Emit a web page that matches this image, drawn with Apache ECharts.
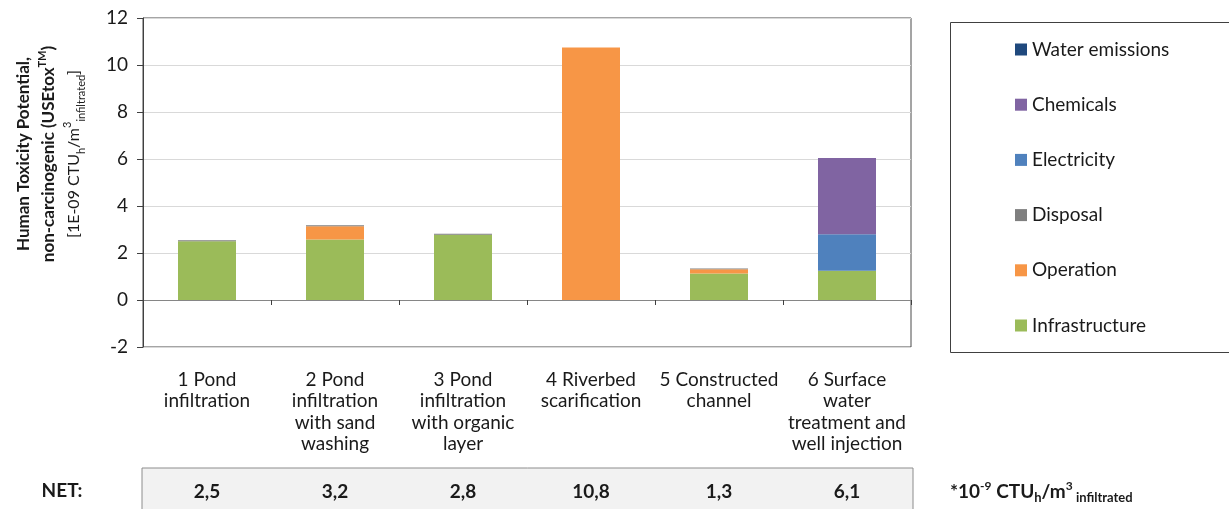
<!DOCTYPE html>
<html><head><meta charset="utf-8">
<script src="https://cdn.jsdelivr.net/npm/echarts@6/dist/echarts.min.js"></script>
<style>html,body{margin:0;padding:0;background:#fff}#c{width:1229px;height:509px}</style>
</head><body><div id="c"></div>
<script>
const categories = ['1 Pond\ninfiltration', '2 Pond\ninfiltration\nwith sand\nwashing', '3 Pond\ninfiltration\nwith organic\nlayer', '4 Riverbed\nscarification', '5 Constructed\nchannel', '6 Surface\nwater\ntreatment and\nwell injection'];
const infrastructure = [2.50, 2.57, 2.78, 0, 1.13, 1.25];
const operation      = [0, 0.57, 0, 10.75, 0.18, 0];
const disposal       = [0.04, 0.04, 0.04, 0, 0.03, 0];
const electricity    = [0, 0, 0, 0, 0, 1.55];
const chemicals      = [0, 0, 0, 0, 0, 3.24];
const waterEmissions = [0, 0, 0, 0, 0, 0];
const netLabels = ['2,5', '3,2', '2,8', '10,8', '1,3', '6,1'];
const yMin = -2, yMax = 12, yStep = 2;

const FONT = 'Lato';
const FS = 19;
const colors = {
  'Infrastructure': '#9BBB59',
  'Operation': '#F79646',
  'Disposal': '#7F7F7F',
  'Electricity': '#4F81BD',
  'Chemicals': '#8064A2',
  'Water emissions': '#1F497D'
};
const seriesDefs = [
  ['Infrastructure', infrastructure],
  ['Operation', operation],
  ['Disposal', disposal],
  ['Electricity', electricity],
  ['Chemicals', chemicals],
  ['Water emissions', waterEmissions]
];

const chart = echarts.init(document.getElementById('c'), null, {renderer: 'canvas'});
const option = {
  animation: false,
  textStyle: {fontFamily: FONT},
  grid: {left: 143, right: 318, top: 18, bottom: 162, show: true, borderColor: '#4a4a4a', borderWidth: 1, backgroundColor: 'transparent'},
  legend: {
    data: ['Water emissions', 'Chemicals', 'Electricity', 'Disposal', 'Operation', 'Infrastructure'],
    orient: 'vertical', left: 1010, top: 35, itemWidth: 12, itemHeight: 12, itemGap: 36.2,
    icon: 'rect',
    textStyle: {fontFamily: FONT, fontSize: FS, color: '#1a1a1a'}
  },
  xAxis: [
    {type: 'category', data: categories, position: 'bottom',
     axisLine: {show: true, onZero: true, lineStyle: {color: '#868686', width: 1}},
     axisTick: {show: true, length: 5, lineStyle: {color: '#404040'}},
     axisLabel: {show: false}, splitLine: {show: false}},
    {type: 'category', data: categories, position: 'bottom',
     axisLine: {show: false, onZero: false}, axisTick: {show: false},
     axisLabel: {show: true, interval: 0, margin: 22, fontFamily: FONT, fontSize: FS, lineHeight: 21.5, color: '#1a1a1a'}},
    {type: 'category', data: netLabels, position: 'bottom',
     axisLine: {show: false, onZero: false}, axisTick: {show: false},
     axisLabel: {show: true, interval: 0, margin: 134, fontFamily: FONT, fontSize: FS, fontWeight: 'bold', lineHeight: 22, color: '#1a1a1a'}}
  ],
  yAxis: {
    type: 'value', min: yMin, max: yMax, interval: yStep,
    axisLine: {show: true, lineStyle: {color: '#404040'}},
    axisTick: {show: true, length: 6, lineStyle: {color: '#404040'}},
    axisLabel: {fontFamily: FONT, fontSize: FS, color: '#1a1a1a', margin: 15},
    splitLine: {show: true, lineStyle: {color: '#d9d9d9', width: 1}}
  },
  series: seriesDefs.map(([name, vals]) => ({
    name, type: 'bar', stack: 'total', data: vals, xAxisIndex: 0,
    barWidth: 58,
    itemStyle: {color: colors[name]},
    emphasis: {disabled: true}
  })),
  graphic: [
    {type: 'rect', z: -10, shape: {x: 142, y: 468, width: 771, height: 60},
     style: {fill: '#f2f2f2', stroke: '#8c8c8c', lineWidth: 1}},
    {type: 'rect', z: -10, shape: {x: 950.5, y: 22.5, width: 290, height: 330},
     style: {fill: '#fff', stroke: '#404040', lineWidth: 1}},
    {type: 'text', x: 62, y: 491,
     style: {text: 'NET:', fontFamily: FONT, fontSize: FS, fontWeight: 'bold', fill: '#1a1a1a', align: 'center', verticalAlign: 'middle'}},
    {type: 'text', x: 950, y: 492,
     style: {
       text: '{b|*10}{bs|-9}{b| CTU}{bsub|h}{b|/m}{bs|3}{bsub| infiltrated}',
       align: 'left', verticalAlign: 'middle',
       rich: {
         b: {fontFamily: FONT, fontSize: FS, fontWeight: 'bold', fill: '#1a1a1a', lineHeight: 24},
         bs: {fontFamily: FONT, fontSize: 12, fontWeight: 'bold', fill: '#1a1a1a', lineHeight: 12, verticalAlign: 'top'},
         bsub: {fontFamily: FONT, fontSize: 13, fontWeight: 'bold', fill: '#1a1a1a', lineHeight: 13, verticalAlign: 'bottom'}
       }
     }},
    {type: 'text', x: 49, y: 154, rotation: Math.PI / 2,
     style: {
       text: '{b|Human Toxicity Potential,}\n{b|non-carcinogenic (USEtox}{bs|TM}{b|)}\n{n|[1E-09 CTU}{sub|h}{n|/m}{sup|3}{sub|infiltrated}{n|]}',
       align: 'center', verticalAlign: 'middle',
       rich: {
         b: {fontFamily: FONT, fontSize: 17, fontWeight: 'bold', fill: '#1a1a1a', lineHeight: 25},
         bs: {fontFamily: FONT, fontSize: 11, fontWeight: 'bold', fill: '#1a1a1a', lineHeight: 12, verticalAlign: 'top'},
         n: {fontFamily: FONT, fontSize: 16, fill: '#1a1a1a', lineHeight: 25},
         sub: {fontFamily: FONT, fontSize: 11, fill: '#1a1a1a', lineHeight: 12, verticalAlign: 'bottom'},
         sup: {fontFamily: FONT, fontSize: 11, fill: '#1a1a1a', lineHeight: 12, verticalAlign: 'top'}
       }
     }}
  ]
};
chart.setOption(option);
</script>
</body></html>
